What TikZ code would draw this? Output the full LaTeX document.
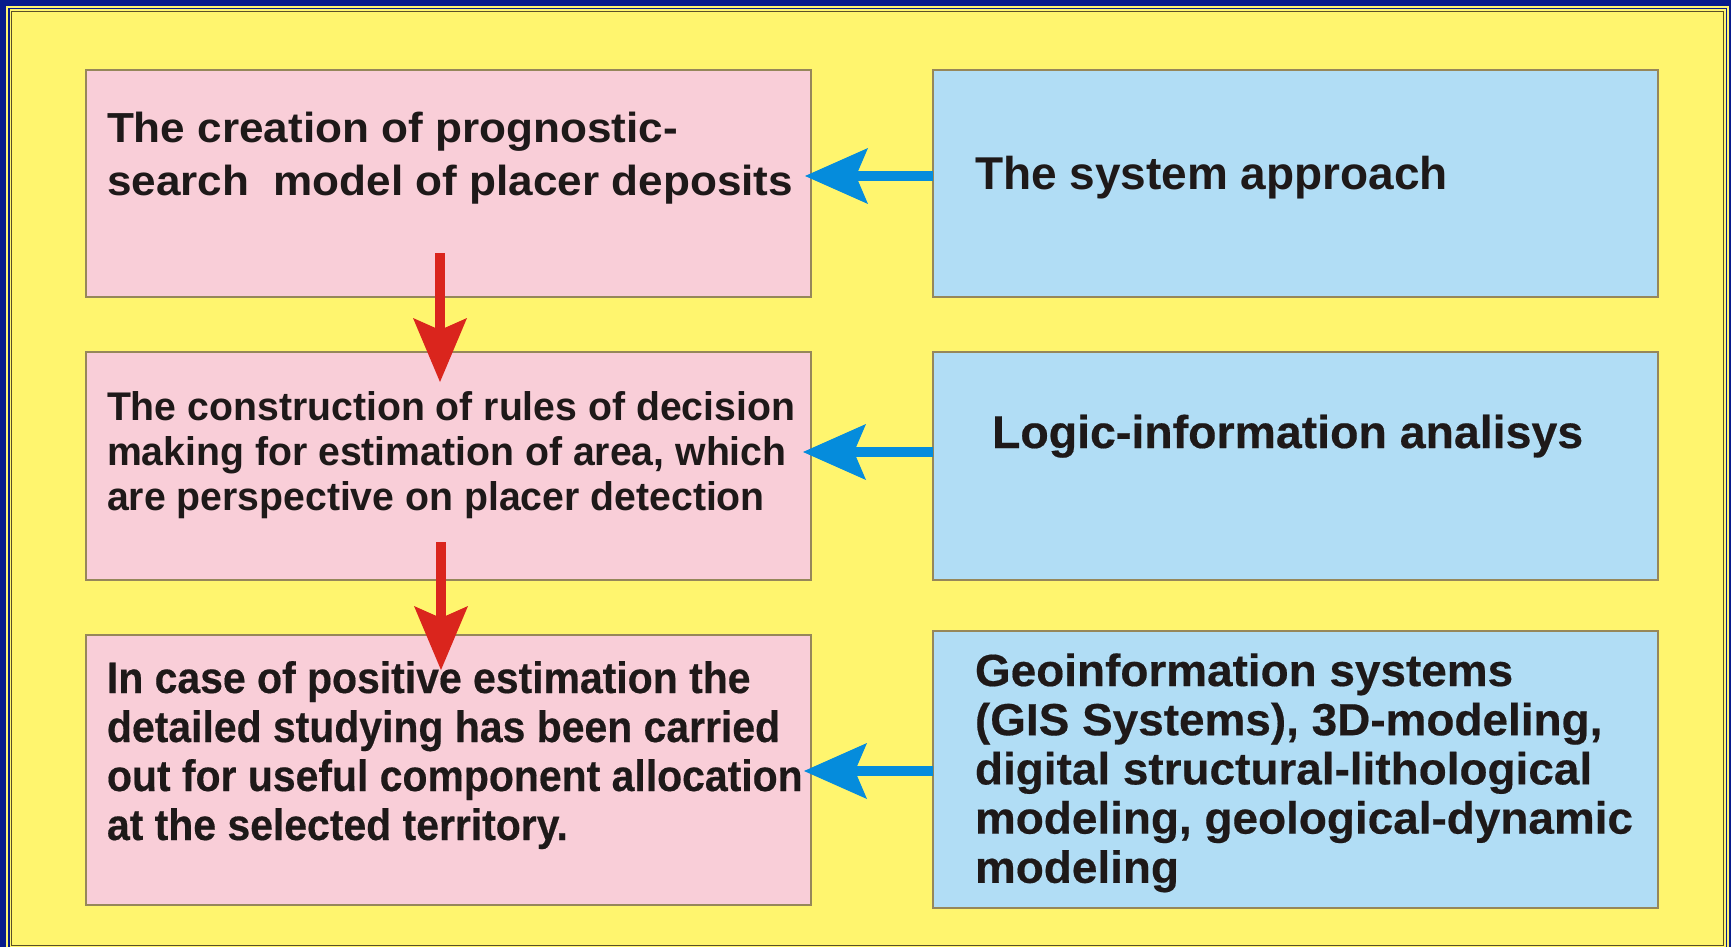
\documentclass[tikz,border=0pt]{standalone}
\usepackage{fontspec}
\setmainfont{Liberation Sans}
\newfontfamily\fP[FakeStretch=1.05]{Liberation Sans}
\newfontfamily\fQ[FakeStretch=0.98]{Liberation Sans}
\newfontfamily\fQb{Liberation Sans}
\newfontfamily\fR[FakeStretch=0.93, FakeBold=0.4]{Liberation Sans}
\newfontfamily\fS[FakeStretch=1.02, FakeBold=0.4]{Liberation Sans}
\newfontfamily\fT[FakeStretch=1.01, FakeBold=0.4]{Liberation Sans}
\usetikzlibrary{arrows.meta}
\definecolor{navy}{RGB}{8,28,140}
\definecolor{bgyellow}{RGB}{255,245,110}
\definecolor{pinkbox}{RGB}{249,206,216}
\definecolor{bluebox}{RGB}{177,221,245}
\definecolor{boxline}{RGB}{150,135,90}
\definecolor{frameline}{RGB}{90,80,40}
\definecolor{arrowblue}{RGB}{5,140,220}
\definecolor{arrowred}{RGB}{218,37,29}
\definecolor{textc}{RGB}{30,25,25}
\newcommand\mylines[2]{\vtop{\baselineskip=#1\lineskiplimit=-100pt\lineskip=0pt #2}}
\tikzset{
  boxP/.style={draw=boxline, fill=pinkbox, line width=0.75pt, inner sep=0pt, outer sep=0pt, anchor=north west, minimum width=362.5pt},
  boxB/.style={boxP, fill=bluebox},
  txt/.style={anchor=base west, inner sep=0pt, outer sep=0pt, text=textc},
  barrow/.style={draw=arrowblue, line width=5pt, -{Stealth[length=31.5pt, width=28pt, inset=6pt, line width=0pt]}},
  rarrow/.style={draw=arrowred, line width=4.6pt, -{Stealth[length=32pt, width=27pt, inset=6pt, line width=0pt]}}
}
\begin{document}
\begin{tikzpicture}[x=0.5pt, y=-0.5pt]
\useasboundingbox (0,0) rectangle (1731,947);
% frame
\fill[navy] (0,0) rectangle (1731,947);
\fill[bgyellow] (6,6) rectangle (1729,960);
\fill[navy] (8,8) rectangle (1727,960);
\fill[bgyellow] (9.5,9.5) rectangle (1725.5,960);
\filldraw[fill=bgyellow, draw=frameline, line width=0.5pt] (11.5,11.5) rectangle (1723.5,945);
% boxes
\node[boxP, minimum height=113.5pt] (P1) at (86,70) {};
\node[boxP, minimum height=114pt] (P2) at (86,352) {};
\node[boxP, minimum height=135pt] (P3) at (86,635) {};
\node[boxB, minimum height=113.5pt] (B1) at (933,70) {};
\node[boxB, minimum height=114pt] (B2) at (933,352) {};
\node[boxB, minimum height=138.5pt] (B3) at (933,631) {};
% texts
\node[txt] (T1) at (107,143) {\fP\bfseries\fontsize{21pt}{26.5pt}\selectfont
  \mylines{26.5pt}{\hbox{The creation of prognostic-}\hbox{search~ model of placer deposits}}};
\node[txt] (T2) at (107,420) {\fQ\bfseries\fontsize{20pt}{22.5pt}\selectfont
  \mylines{22.5pt}{\hbox{The construction of rules of decision}\hbox{making for estimation of area, which}\hbox{are perspective on placer detection}}};
\node[txt] (T3) at (107,693) {\fR\bfseries\fontsize{22pt}{24.5pt}\selectfont
  \mylines{24.5pt}{\hbox{In case of positive estimation the}\hbox{detailed studying has been carried}\hbox{out for useful component allocation}\hbox{at the selected territory.}}};
\node[txt] (U1) at (975,190) {\fQb\bfseries\fontsize{23pt}{27pt}\selectfont The system approach};
\node[txt] (U2) at (992,448) {\fT\bfseries\fontsize{23pt}{27pt}\selectfont Logic-information analisys};
\node[txt] (U3) at (975,686) {\fS\bfseries\fontsize{22.5pt}{24.6pt}\selectfont
  \mylines{24.6pt}{\hbox{Geoinformation systems}\hbox{(GIS Systems), 3D-modeling,}\hbox{digital structural-lithological}\hbox{modeling, geological-dynamic}\hbox{modeling}}};
% blue arrows
\draw[barrow] (B1.west |- 0,176) -- ([xshift=-3pt]P1.east |- 0,176);
\draw[barrow] (B2.west |- 0,452) -- ([xshift=-4pt]P2.east |- 0,452);
\draw[barrow] (B3.west |- 0,771) -- ([xshift=-3.5pt]P3.east |- 0,771);
% red arrows
\coordinate (R1a) at (440,253);
\coordinate (R1b) at (440,382);
\coordinate (R2a) at (441,542);
\coordinate (R2b) at (441,670);
\draw[rarrow] (R1a) -- (R1b);
\draw[rarrow] (R2a) -- (R2b);
\end{tikzpicture}
\end{document}
